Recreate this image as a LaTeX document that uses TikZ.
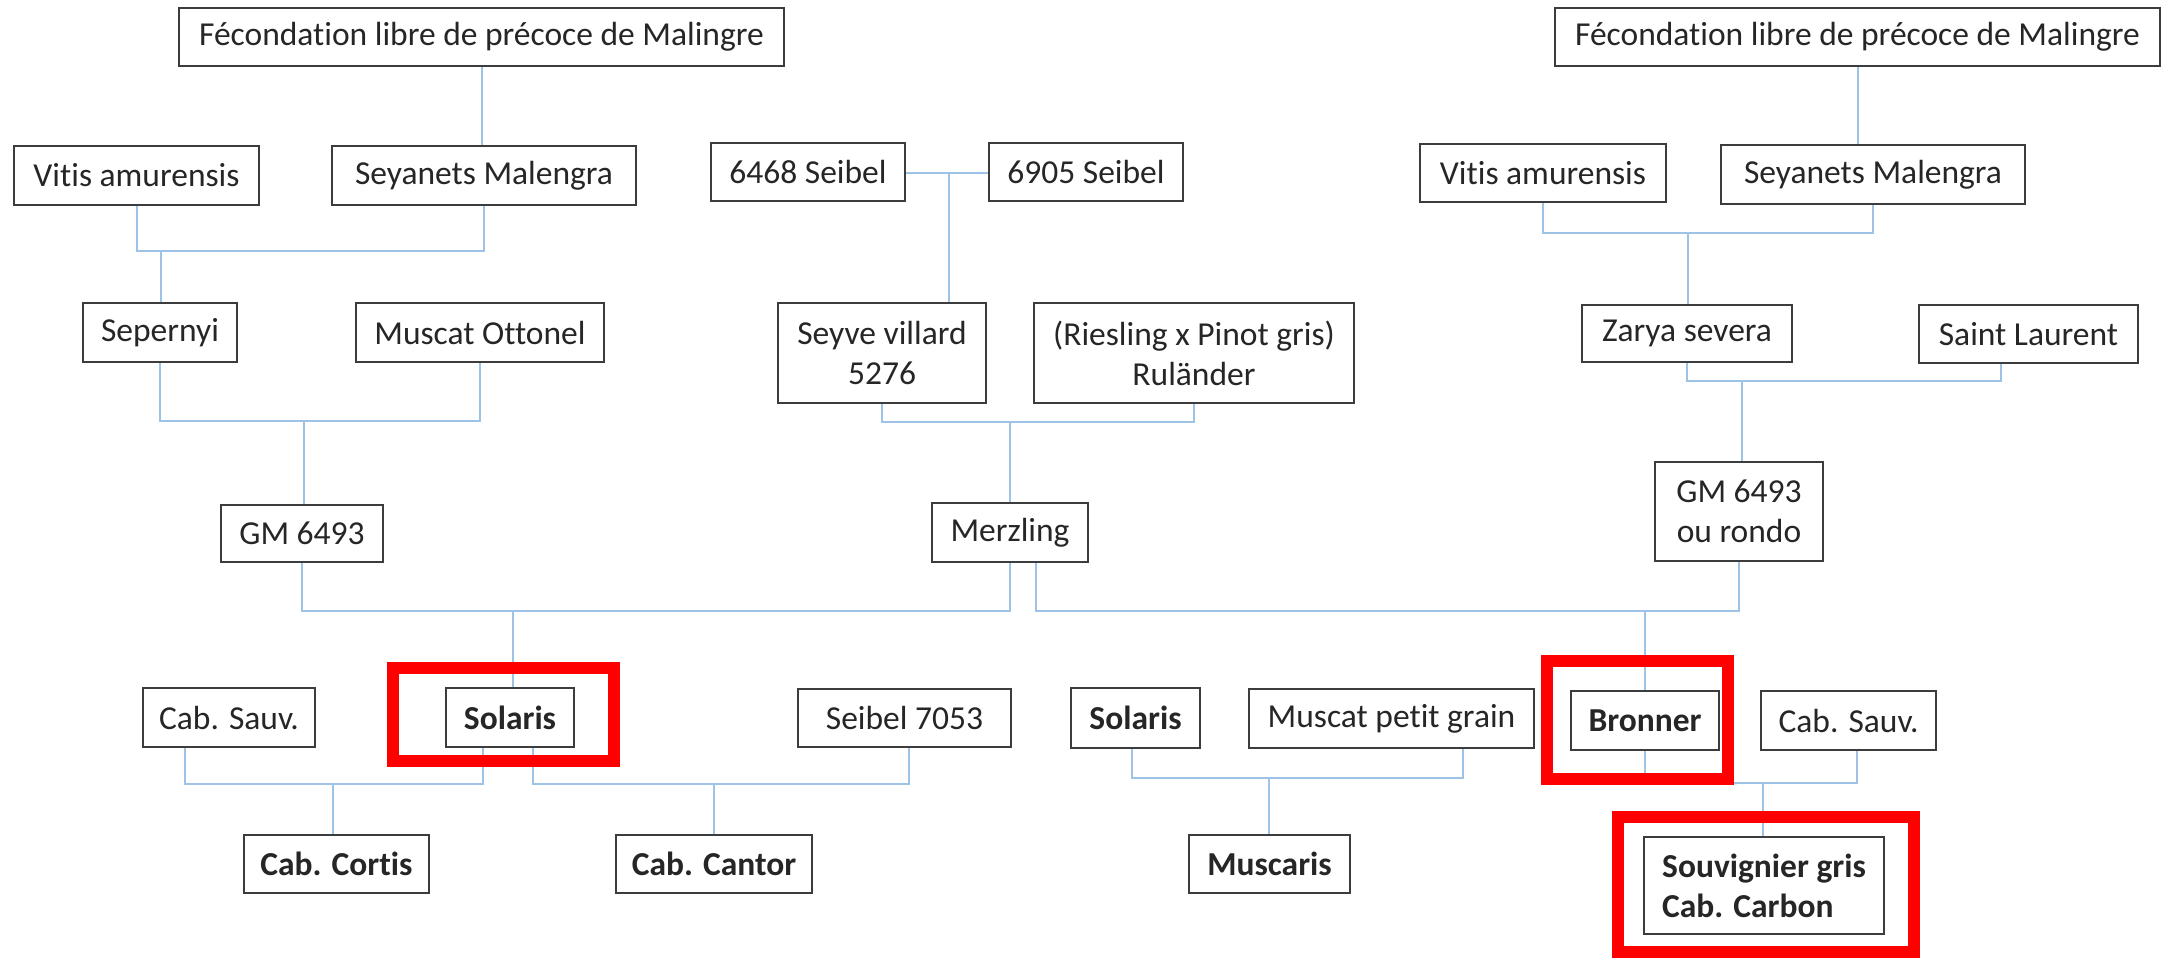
\documentclass[tikz,border=0pt]{standalone}
\usepackage{fontspec}
\setmainfont{Carlito}[Ligatures=CommonOff]
\definecolor{conn}{RGB}{157,195,230}
\definecolor{txt}{RGB}{38,38,38}
\definecolor{frame}{RGB}{60,60,60}
\begin{document}
\begin{tikzpicture}[x=1pt,y=-1pt,
  box/.style={draw=frame, line width=2pt, fill=white, inner sep=0pt, text=txt,
    font=\fontsize{33.5}{40}\selectfont, align=center},
  bbox/.style={box, font=\fontsize{33.5}{40}\selectfont\bfseries},
  sz/.style 2 args={minimum width=#1pt, minimum height=#2pt},
  link/.style={draw=conn, line width=2pt},
  hilite/.style={draw=red, line width=12pt, inner sep=0pt}]
\useasboundingbox (0,0) rectangle (2169,960);
% row 1
\node[box, sz={605}{58}] (fecL) at (481.5,37) {Fécondation libre de précoce de Malingre};
\node[box, sz={605}{58}] (fecR) at (1857.5,37) {Fécondation libre de précoce de Malingre};
% row 2
\node[box, sz={245}{59}] (vitL) at (136.5,175.5) {Vitis amurensis};
\node[box, sz={304}{59}] (seyL) at (484,175.5) {Seyanets Malengra};
\node[box, sz={194}{58}] (s6468) at (808,172) {6468 Seibel};
\node[box, sz={194}{58}] (s6905) at (1086,172) {6905 Seibel};
\node[box, sz={246}{58}] (vitR) at (1543,173) {Vitis amurensis};
\node[box, sz={304}{59}] (seyR) at (1873,174.5) {Seyanets Malengra};
% row 3
\node[box, sz={154}{59}] (sep) at (160,332.5) {Sepernyi};
\node[box, sz={248}{59}] (mot) at (480,332.5) {Muscat Ottonel};
\node[box, sz={208}{100}] (seyve) at (882,353) {Seyve villard\\5276};
\node[box, sz={320}{100}] (ries) at (1194,353) {(Riesling x Pinot gris)\\Ruländer};
\node[box, sz={210}{57}] (zarya) at (1687,333.5) {Zarya severa};
\node[box, sz={219}{58}] (stl) at (2028.5,334) {Saint Laurent};
% row 4
\node[box, sz={162}{57}] (gmL) at (302,533.5) {GM 6493};
\node[box, sz={156}{59}] (merz) at (1010,532.5) {Merzling};
\node[box, sz={168}{99}] (gmR) at (1739,511.5) {GM 6493\\ou rondo};
% row 5
\node[box, sz={172}{59}] (csL) at (229,717.5) {Cab. Sauv.};
\node[bbox, sz={128}{59}] (solL) at (510,717.5) {Solaris};
\node[box, sz={213}{58}] (s7053) at (904.5,718) {Seibel 7053};
\node[bbox, sz={129}{60}] (solM) at (1135.5,718) {Solaris};
\node[box, sz={285}{59}] (mpg) at (1391.5,718.5) {Muscat petit grain};
\node[bbox, sz={148}{59}] (bron) at (1645,720.5) {Bronner};
\node[box, sz={175}{59}] (csR) at (1848.5,720.5) {Cab. Sauv.};
% row 6
\node[bbox, sz={185}{58}] (cortis) at (336.5,864) {Cab. Cortis};
\node[bbox, sz={196}{58}] (cantor) at (714,864) {Cab. Cantor};
\node[bbox, sz={161}{58}] (muscaris) at (1269.5,864) {Muscaris};
\node[bbox, sz={240}{97}, align=left] (souv) at (1764,885.5) {Souvignier gris\\Cab. Carbon};
% connectors, left tree
\coordinate (jA) at (161,251);
\draw[link] (fecL.south) -- (fecL.south |- seyL.north);
\draw[link] (vitL.south) |- (seyL.south |- jA) -- (seyL.south);
\draw[link] (jA) -- (jA |- sep.north);
\coordinate (jB) at (304,421);
\draw[link] (sep.south) |- (mot.south |- jB) -- (mot.south);
\draw[link] (jB) -- (jB |- gmL.north);
% middle tree
\coordinate (jC) at (949,173);
\draw[link] (s6468.east |- jC) -- (s6905.west |- jC);
\draw[link] (jC) -- (jC |- seyve.north);
\coordinate (jD) at (1010,422);
\draw[link] (seyve.south) |- (ries.south |- jD) -- (ries.south);
\draw[link] (jD) -- (jD |- merz.north);
% right tree
\draw[link] (fecR.south) -- (fecR.south |- seyR.north);
\coordinate (jE) at (1688,233);
\draw[link] (vitR.south) |- (seyR.south |- jE) -- (seyR.south);
\draw[link] (jE) -- (jE |- zarya.north);
\coordinate (jF) at (1742,381);
\coordinate (stlF) at (2001,381);
\draw[link] (zarya.south) |- (stlF) -- (stlF |- stl.south);
\draw[link] (jF) -- (jF |- gmR.north);
% row 4 to row 5
\coordinate (jG) at (513,611);
\draw[link] (gmL.south) |- (merz.south |- jG) -- (merz.south);
\draw[link] (jG) -- (jG |- solL.north);
\coordinate (mzH) at (1036,611);
\coordinate (jH) at (1645,611);
\draw[link] (mzH |- merz.south) -- (mzH) -| (gmR.south);
\draw[link] (jH) -- (jH |- bron.north);
% row 5 to row 6
\coordinate (csLK) at (185,784);
\coordinate (solLK) at (483,784);
\coordinate (jK) at (333,784);
\draw[link] (csLK |- csL.south) -- (csLK) -- (solLK) -- (solLK |- solL.south);
\draw[link] (jK) -- (jK |- cortis.north);
\coordinate (solLL) at (533,784);
\coordinate (s7053L) at (909,784);
\coordinate (jL) at (714,784);
\draw[link] (solLL |- solL.south) -- (solLL) -- (s7053L) -- (s7053L |- s7053.south);
\draw[link] (jL) -- (jL |- cantor.north);
\coordinate (solMM) at (1132,778);
\coordinate (mpgM) at (1463,778);
\coordinate (jM) at (1269,778);
\draw[link] (solMM |- solM.south) -- (solMM) -- (mpgM) -- (mpgM |- mpg.south);
\draw[link] (jM) -- (jM |- muscaris.north);
\coordinate (csRN) at (1857,783);
\coordinate (jN) at (1763,783);
\draw[link] (bron.south) |- (csRN) -- (csRN |- csR.south);
\draw[link] (jN) -- (jN |- souv.north);
% highlight frames
\node[hilite, sz={221}{93}] (redL) at (503.5,714.5) {};
\node[hilite, sz={181}{118}] (redB) at (1637.5,720) {};
\node[hilite, sz={296}{135}] (redS) at (1766,884.5) {};
\end{tikzpicture}
\end{document}
